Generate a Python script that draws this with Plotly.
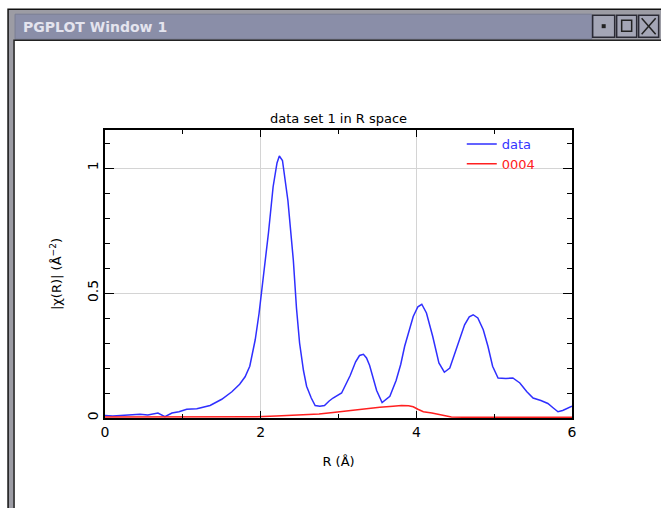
import plotly.graph_objects as go

# ---- data ----
R_data = [0.00, 0.10, 0.20, 0.30, 0.45, 0.55, 0.68, 0.77, 0.86, 0.95, 1.05, 1.18, 1.35, 1.50,
          1.63, 1.73, 1.80, 1.86, 1.93, 1.98, 2.03, 2.10, 2.16, 2.21, 2.24, 2.28, 2.35, 2.42,
          2.46, 2.50, 2.55, 2.59, 2.65, 2.70, 2.76, 2.82, 2.88, 2.93, 3.04, 3.15, 3.22, 3.27,
          3.32, 3.36, 3.40, 3.45, 3.49, 3.56, 3.66, 3.74, 3.80, 3.85, 3.96, 4.02, 4.07, 4.13,
          4.21, 4.29, 4.36, 4.43, 4.51, 4.62, 4.68, 4.73, 4.79, 4.86, 4.92, 4.98, 5.05, 5.15,
          5.24, 5.33, 5.42, 5.50, 5.60, 5.69, 5.76, 5.82, 5.88, 5.95, 6.00]
chi_data = [0.010, 0.008, 0.010, 0.012, 0.015, 0.012, 0.020, 0.005, 0.020, 0.025, 0.035, 0.037,
            0.050, 0.075, 0.105, 0.135, 0.165, 0.207, 0.313, 0.420, 0.550, 0.740, 0.925, 1.020,
            1.048, 1.030, 0.870, 0.630, 0.440, 0.300, 0.190, 0.127, 0.080, 0.050, 0.047, 0.050,
            0.068, 0.080, 0.100, 0.170, 0.225, 0.250, 0.255, 0.240, 0.210, 0.155, 0.110, 0.062,
            0.087, 0.150, 0.215, 0.287, 0.406, 0.445, 0.455, 0.420, 0.327, 0.220, 0.183, 0.200,
            0.273, 0.373, 0.405, 0.413, 0.400, 0.353, 0.287, 0.207, 0.160, 0.158, 0.160, 0.140,
            0.105, 0.080, 0.070, 0.058, 0.040, 0.025, 0.030, 0.040, 0.047]

R_fit = [0.0, 0.5, 1.0, 1.5, 1.95, 2.2, 2.5, 2.75, 2.93, 3.1, 3.25, 3.4, 3.53, 3.7, 3.81,
         3.9, 3.96, 4.02, 4.09, 4.2, 4.3, 4.38, 4.45, 4.6, 5.0, 5.5, 6.0]
chi_fit = [0.004, 0.004, 0.004, 0.004, 0.005, 0.008, 0.012, 0.016, 0.022, 0.028, 0.035, 0.040,
           0.043, 0.047, 0.050, 0.049, 0.045, 0.035, 0.025, 0.020, 0.014, 0.010, 0.004, 0.003,
           0.003, 0.003, 0.003]

x_ticks = [0, 2, 4, 6]
y_ticks = [0, 0.5, 1]
y_tick_text = ["0", "0.5", "1"]

W, H = 661, 508
L, R, T, B = 105, 572.3, 130, 418.5


def px(X):
    return (X - L) / (R - L)


def py(Y):
    return (B - Y) / (B - T)


FONT = "DejaVu Sans"

fig = go.Figure()
fig.add_trace(go.Scatter(x=R_data, y=chi_data, mode="lines", name="<span style='color:#3333ff'>data</span>",
                         line=dict(color="#2f2fff", width=1.5)))
fig.add_trace(go.Scatter(x=R_fit, y=chi_fit, mode="lines", name="<span style='color:#ff2020'>0004</span>",
                         line=dict(color="#ff2020", width=1.5)))

shapes = []
# window frame
shapes.append(dict(type="rect", xref="paper", yref="paper", x0=px(8), x1=px(700), y0=py(9), y1=py(560),
                   fillcolor="#9c9ca4", line=dict(color="#111111", width=1.5), layer="below"))
shapes.append(dict(type="rect", xref="paper", yref="paper", x0=px(15), x1=px(592), y0=py(14), y1=py(39),
                   fillcolor="#8a8ea8", line=dict(color="#7a7e94", width=1), layer="below"))
shapes.append(dict(type="rect", xref="paper", yref="paper", x0=px(14), x1=px(700), y0=py(40), y1=py(560),
                   fillcolor="white", line=dict(color="#222222", width=1.5), layer="below"))
# buttons
for bx0, bx1 in [(593, 615), (617, 637), (639, 659)]:
    shapes.append(dict(type="rect", xref="paper", yref="paper", x0=px(bx0), x1=px(bx1), y0=py(15), y1=py(37),
                       fillcolor="#a4a6b6", line=dict(color="#2a2a35", width=1.5), layer="below"))
shapes.append(dict(type="rect", xref="paper", yref="paper", x0=px(602), x1=px(606), y0=py(24), y1=py(28),
                   fillcolor="#222", line=dict(width=0), layer="below"))
shapes.append(dict(type="rect", xref="paper", yref="paper", x0=px(622), x1=px(632), y0=py(20), y1=py(31),
                   fillcolor="rgba(0,0,0,0)", line=dict(color="#222", width=1.5), layer="below"))
shapes.append(dict(type="line", xref="paper", yref="paper", x0=px(642), x1=px(656), y0=py(18), y1=py(34),
                   line=dict(color="#222", width=1.5), layer="below"))
shapes.append(dict(type="line", xref="paper", yref="paper", x0=px(642), x1=px(656), y0=py(34), y1=py(18),
                   line=dict(color="#222", width=1.5), layer="below"))

annotations = [
    dict(text="<b>PGPLOT Window 1</b>", xref="paper", yref="paper", x=px(21), y=py(27), xanchor="left",
         yanchor="middle", showarrow=False, font=dict(family=FONT, size=14, color="#e4e4ee")),
    dict(text="data set 1 in R space", xref="paper", yref="paper", x=px(339), y=py(118),
         xanchor="center", yanchor="middle", showarrow=False, font=dict(family=FONT, size=13, color="black")),
]

axis_common = dict(showline=True, linecolor="black", linewidth=1.5, mirror="ticks", ticks="inside",
                   tickcolor="black", tickwidth=1, showgrid=True, gridcolor="#d4d4d4", gridwidth=1,
                   zeroline=False, tickfont=dict(family=FONT, size=14, color="black"))

fig.update_layout(
    width=W, height=H,
    margin=dict(l=L, r=W - R, t=T, b=H - B, autoexpand=False),
    paper_bgcolor="white", plot_bgcolor="rgba(0,0,0,0)",
    shapes=shapes, annotations=annotations,
    showlegend=True,
    legend=dict(x=px(462), y=py(129), xanchor="left", yanchor="top", bgcolor="rgba(0,0,0,0)",
                font=dict(family=FONT, size=13), itemwidth=30, tracegroupgap=0),
    xaxis=dict(range=[0, 6], tickvals=x_ticks, ticklen=7,
               minor=dict(dtick=1, ticks="inside", ticklen=4, tickcolor="black", showgrid=False),
               title=dict(text="R (Å)", font=dict(family=FONT, size=13, color="black"), standoff=18),
               **axis_common),
    yaxis=dict(range=[0, 1.152], tickvals=y_ticks, ticktext=y_tick_text, tickangle=-90, ticklen=9,
               minor=dict(dtick=0.1, ticks="inside", ticklen=5, tickcolor="black", showgrid=False),
               title=dict(text="|χ(R)| (Å<sup>−2</sup>)", font=dict(family=FONT, size=13, color="black"),
                          standoff=20),
               **axis_common),
)

fig.write_html("out.html", config={"displayModeBar": False},
               post_script="document.body.style.margin='0';")
